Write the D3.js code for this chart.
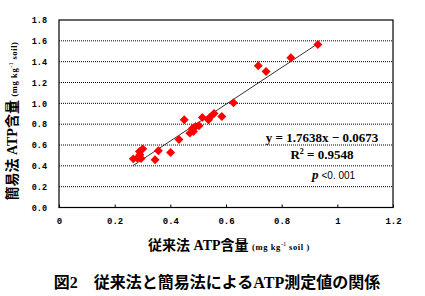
<!DOCTYPE html>
<html>
<head>
<meta charset="utf-8">
<script src="https://cdn.jsdelivr.net/npm/d3@7"></script>
<style>
  body { margin: 0; background: #fff; }
  svg { display: block; }
</style>
</head>
<body>
<script>
// conventional method (x) vs simple method (y), mg kg-1 soil
var xVals = [0.267, 0.281, 0.291, 0.289, 0.301, 0.295, 0.345, 0.357, 0.401, 0.431,
             0.450, 0.470, 0.483, 0.479, 0.491, 0.503, 0.515, 0.537, 0.543, 0.557,
             0.585, 0.627, 0.716, 0.744, 0.833, 0.930];
var yVals = [0.467, 0.474, 0.506, 0.537, 0.563, 0.47, 0.458, 0.544, 0.528, 0.653,
             0.842, 0.714, 0.730, 0.758, 0.778, 0.784, 0.864, 0.842, 0.868, 0.902,
             0.873, 1.005, 1.360, 1.305, 1.437, 1.565];

var xTicks = [0, 0.2, 0.4, 0.6, 0.8, 1, 1.2];
var xTickLabels = ["0", "0.2", "0.4", "0.6", "0.8", "1", "1.2"];
var yTicks = [0, 0.2, 0.4, 0.6, 0.8, 1.0, 1.2, 1.4, 1.6, 1.8];
var yTickLabels = ["0.0", "0.2", "0.4", "0.6", "0.8", "1.0", "1.2", "1.4", "1.6", "1.8"];

var slope = 1.7638, intercept = -0.0673;
var fitRange = [0.265, 0.93];

var W = 425, H = 296;
var svg = d3.select("body").append("svg")
    .attr("width", W)
    .attr("height", H);
svg.append("rect").attr("width", W).attr("height", H).attr("fill", "#fff");

var x = d3.scaleLinear().domain([0, 1.2]).range([59, 393]);
var y = d3.scaleLinear().domain([0, 1.8]).range([207.5, 20]);

// dotted grid
svg.append("g")
  .selectAll("line")
  .data(yTicks.slice(1, -1))
  .enter().append("line")
    .attr("x1", x(0)).attr("x2", x(1.2))
    .attr("y1", function(d) { return y(d); })
    .attr("y2", function(d) { return y(d); })
    .attr("stroke", "#000")
    .attr("stroke-width", 1)
    .attr("stroke-dasharray", "1,1");

// frame
svg.append("rect")
    .attr("x", x(0)).attr("y", y(1.8))
    .attr("width", x(1.2) - x(0)).attr("height", y(0) - y(1.8))
    .attr("fill", "none").attr("stroke", "#000").attr("stroke-width", 1.2);

// x ticks (inward) and labels
var xAxis = d3.axisBottom(x)
    .tickValues(xTicks)
    .tickSize(-3)
    .tickPadding(10)
    .tickFormat(function(d, i) { return xTickLabels[i]; });
var gx = svg.append("g")
    .attr("transform", "translate(0," + y(0) + ")")
    .call(xAxis);
gx.select(".domain").remove();
gx.selectAll("text")
    .attr("font-family", "'Liberation Mono', monospace")
    .attr("font-size", 9)
    .attr("font-weight", "bold")
    .attr("fill", "#000");

var yAxis = d3.axisLeft(y)
    .tickValues(yTicks)
    .tickSize(0)
    .tickPadding(12)
    .tickFormat(function(d, i) { return yTickLabels[i]; });
var gy = svg.append("g")
    .attr("transform", "translate(" + x(0) + ",0)")
    .call(yAxis);
gy.select(".domain").remove();
gy.selectAll("text")
    .attr("font-family", "'Liberation Mono', monospace")
    .attr("font-size", 8.5)
    .attr("font-weight", "bold")
    .attr("fill", "#000");

// regression line
svg.append("line")
    .attr("x1", x(fitRange[0])).attr("y1", y(slope * fitRange[0] + intercept))
    .attr("x2", x(fitRange[1])).attr("y2", y(slope * fitRange[1] + intercept))
    .attr("stroke", "#000").attr("stroke-width", 0.8);

// points (red diamonds)
svg.append("g")
  .selectAll("path")
  .data(xVals)
  .enter().append("path")
    .attr("d", d3.symbol().type(d3.symbolSquare).size(40))
    .attr("transform", function(d, i) {
      return "translate(" + x(d) + "," + y(yVals[i]) + ") rotate(45)";
    })
    .attr("fill", "#f00");

// equation text
var eq = svg.append("g")
    .attr("font-family", "'Liberation Serif', serif")
    .attr("font-weight", "bold")
    .attr("font-size", 13)
    .attr("fill", "#000");
eq.append("text").attr("x", 322).attr("y", 142).attr("text-anchor", "middle")
    .text("y = 1.7638x \u2212 0.0673");
var r2 = eq.append("text").attr("x", 322).attr("y", 159).attr("text-anchor", "middle");
r2.append("tspan").text("R");
r2.append("tspan").attr("font-size", 8).attr("dy", -5).text("2");
r2.append("tspan").attr("dy", 5).text(" = 0.9548");
var pt = eq.append("text").attr("x", 312).attr("y", 179);
pt.append("tspan").attr("font-style", "italic").attr("font-size", 13).text("p");
pt.append("tspan").attr("font-family", "'Liberation Sans', sans-serif").attr("font-weight", "normal")
    .attr("font-size", 10).attr("dx", 3).text("<0. 001");

// axis titles
var jp = "'Liberation Serif', 'Noto Sans CJK JP', serif";
var xt = svg.append("text")
    .attr("x", 229).attr("y", 250)
    .attr("text-anchor", "middle")
    .attr("font-family", jp)
    .attr("fill", "#000");
xt.append("tspan").attr("font-size", 14).attr("font-weight", "bold").text("従来法 ATP含量 ");
xt.append("tspan").attr("font-size", 8.5).attr("font-weight", "bold").attr("letter-spacing", 0.6).text("(mg kg");
xt.append("tspan").attr("font-size", 6.5).attr("dy", -4).text("-1");
xt.append("tspan").attr("font-size", 8.5).attr("font-weight", "bold").attr("letter-spacing", 0.6).attr("dy", 4).text(" soil )");

var yt = svg.append("text")
    .attr("transform", "translate(17,121) rotate(-90)")
    .attr("text-anchor", "middle")
    .attr("font-family", jp)
    .attr("fill", "#000");
yt.append("tspan").attr("font-size", 14).attr("font-weight", "bold").text("簡易法  ATP含量 ");
yt.append("tspan").attr("font-size", 8.5).attr("font-weight", "bold").attr("letter-spacing", 0.6).text("(mg kg");
yt.append("tspan").attr("font-size", 6.5).attr("dy", -4).text("-1");
yt.append("tspan").attr("font-size", 8.5).attr("font-weight", "bold").attr("letter-spacing", 0.6).attr("dy", 4).text(" soil)");

// caption
svg.append("text")
    .attr("x", 217).attr("y", 288)
    .attr("text-anchor", "middle")
    .attr("font-family", jp)
    .attr("font-size", 16)
    .attr("font-weight", "bold")
    .attr("fill", "#000")
    .text("図2\u3000従来法と簡易法によるATP測定値の関係");
</script>
</body>
</html>
